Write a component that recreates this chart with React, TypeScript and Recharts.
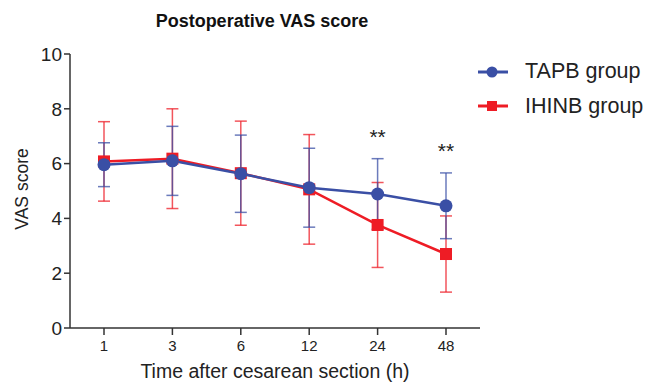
import React from "react";
import { LineChart, Line, XAxis, YAxis, ErrorBar, ReferenceDot } from "recharts";

const times = ["1", "3", "6", "12", "24", "48"];
const tapbMean = [5.96, 6.1, 5.63, 5.12, 4.89, 4.46];
const tapbSd = [0.8, 1.26, 1.41, 1.44, 1.29, 1.2];
const ihinbMean = [6.08, 6.18, 5.65, 5.06, 3.76, 2.7];
const ihinbSd = [1.45, 1.82, 1.9, 2.0, 1.55, 1.39];
const significant = [false, false, false, false, true, true];
const yTicks = [0, 2, 4, 6, 8, 10];

const BLUE = "#3a4fa5";
const RED = "#ee1c25";
const FONT = "Liberation Sans, Arial, sans-serif";

const data = times.map((t, i) => ({
  time: t,
  tapb: tapbMean[i],
  tapbSd: tapbSd[i],
  ihinb: ihinbMean[i],
  ihinbSd: ihinbSd[i],
}));

const CircleDot = (props: any) => {
  const { cx, cy } = props;
  if (cx == null || cy == null) return null;
  return <circle cx={cx} cy={cy} r={6.5} fill={BLUE} />;
};

const SquareDot = (props: any) => {
  const { cx, cy } = props;
  if (cx == null || cy == null) return null;
  return <rect x={cx - 6} y={cy - 6} width={12} height={12} fill={RED} />;
};

const Stars = (props: any) => {
  const { viewBox } = props;
  const cx = viewBox.x + (viewBox.width || 0) / 2;
  const cy = viewBox.y + (viewBox.height || 0) / 2;
  return (
    <text x={cx} y={cy + 10} textAnchor="middle" fontSize={21} fontFamily={FONT} fill="#222">
      **
    </text>
  );
};

export default function App() {
  return (
    <div style={{ position: "absolute", left: 0, top: 0, width: 651, height: 382, background: "#fff" }}>
      <svg width={651} height={382} style={{ position: "absolute", left: 0, top: 0 }}>
        <text x={262} y={27} textAnchor="middle" fontSize={18} fontWeight="bold" fontFamily={FONT} fill="#111">
          Postoperative VAS score
        </text>
        <text
          x={0}
          y={0}
          transform="translate(28,189) rotate(-90)"
          textAnchor="middle"
          fontSize={17.5}
          fontFamily={FONT}
          fill="#222"
        >
          VAS score
        </text>
        <text x={275} y={378} textAnchor="middle" fontSize={19.5} fontFamily={FONT} fill="#222">
          Time after cesarean section (h)
        </text>
        <line x1={478} y1={72} x2={508} y2={72} stroke={BLUE} strokeWidth={3} />
        <circle cx={492} cy={72} r={5.5} fill={BLUE} />
        <text x={525} y={78} fontSize={21.5} fontFamily={FONT} fill="#222">
          TAPB group
        </text>
        <line x1={478} y1={106} x2={508} y2={106} stroke={RED} strokeWidth={3} />
        <rect x={487} y={101} width={10} height={10} fill={RED} />
        <text x={525} y={113} fontSize={21.5} fontFamily={FONT} fill="#222">
          IHINB group
        </text>
      </svg>
      <div style={{ position: "absolute", left: 0, top: 0 }}>
        <LineChart
          width={651}
          height={382}
          data={data}
          margin={{ top: 54, right: 171, left: 0, bottom: 0 }}
        >
          <XAxis
            dataKey="time"
            height={54}
            padding={{ left: 34, right: 34 }}
            tick={{ fill: "#222", fontSize: 15, fontFamily: FONT }}
            tickSize={7}
            tickMargin={5}
            axisLine={{ stroke: "#333", strokeWidth: 1.5 }}
            tickLine={{ stroke: "#333", strokeWidth: 1.5 }}
          />
          <YAxis
            domain={[0, 10]}
            ticks={yTicks}
            width={70}
            tick={{ fill: "#222", fontSize: 19, fontFamily: FONT }}
            tickSize={6}
            tickMargin={2}
            axisLine={{ stroke: "#333", strokeWidth: 1.5 }}
            tickLine={{ stroke: "#333", strokeWidth: 1.5 }}
          />
          <Line
            dataKey="ihinb"
            name="IHINB group"
            stroke={RED}
            strokeWidth={2.5}
            dot={<SquareDot />}
            activeDot={false}
            isAnimationActive={false}
          >
            <ErrorBar dataKey="ihinbSd" width={6} stroke={RED} strokeOpacity={0.75} strokeWidth={1.5} />
          </Line>
          <Line
            dataKey="tapb"
            name="TAPB group"
            stroke={BLUE}
            strokeWidth={2.5}
            dot={<CircleDot />}
            activeDot={false}
            isAnimationActive={false}
          >
            <ErrorBar dataKey="tapbSd" width={6} stroke={BLUE} strokeOpacity={0.75} strokeWidth={1.5} />
          </Line>
          {times.map((t, i) =>
            significant[i] ? (
              <ReferenceDot
                key={t}
                x={t}
                y={Math.max(tapbMean[i] + tapbSd[i], ihinbMean[i] + ihinbSd[i]) + 0.9}
                r={0}
                stroke="none"
                fill="none"
                label={<Stars />}
              />
            ) : null
          )}
        </LineChart>
      </div>
    </div>
  );
}
